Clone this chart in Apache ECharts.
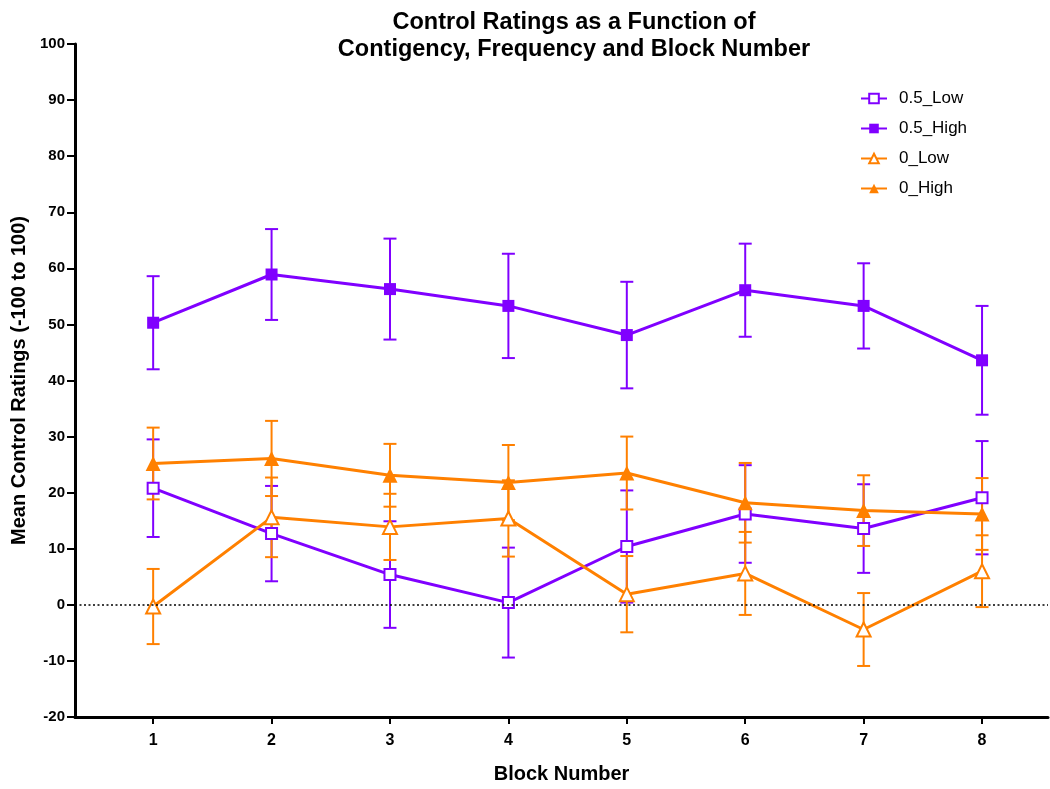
<!DOCTYPE html>
<html>
<head>
<meta charset="utf-8">
<script src="https://cdn.jsdelivr.net/npm/echarts@6/dist/echarts.min.js"></script>
<style>
  html, body { margin: 0; padding: 0; background: #fff; }
  #chart { width: 1050px; height: 789px; }
</style>
</head>
<body>
<div id="chart"></div>
<script>
// Block numbers along the x axis
const blocks = [1, 2, 3, 4, 5, 6, 7, 8];

// Mean control ratings per block, with standard errors
const lowHalfMean  = [20.8, 12.7, 5.4, 0.4, 10.4, 16.2, 13.6, 19.1];
const lowHalfSE    = [8.7, 8.5, 9.5, 9.8, 10.0, 8.7, 7.9, 10.1];
const highHalfMean = [50.3, 58.9, 56.3, 53.3, 48.1, 56.1, 53.3, 43.6];
const highHalfSE   = [8.3, 8.1, 9.0, 9.3, 9.5, 8.3, 7.6, 9.7];
const lowZeroMean  = [-0.3, 15.6, 13.9, 15.4, 1.9, 5.6, -4.4, 6.0];
const lowZeroSE    = [6.7, 7.1, 5.9, 6.8, 6.8, 7.4, 6.5, 6.4];
const highZeroMean = [25.2, 26.1, 23.1, 21.8, 23.5, 18.2, 16.8, 16.2];
const highZeroSE   = [6.4, 6.7, 5.6, 6.7, 6.5, 7.1, 6.3, 6.4];

const yTicks = { min: -20, max: 100, step: 10 };

const PURPLE = '#8000ff';
const ORANGE = '#ff8000';

const groups = [
  { name: '0.5_Low',  mean: lowHalfMean,  se: lowHalfSE,  color: PURPLE, symbol: 'rect',     open: true,  size: 11 },
  { name: '0.5_High', mean: highHalfMean, se: highHalfSE, color: PURPLE, symbol: 'rect',     open: false, size: 12 },
  { name: '0_Low',    mean: lowZeroMean,  se: lowZeroSE,  color: ORANGE, symbol: 'triangle', open: true,  size: 14 },
  { name: '0_High',   mean: highZeroMean, se: highZeroSE, color: ORANGE, symbol: 'triangle', open: false, size: 15 }
];

// Vertical mean ± SE bars with caps
function errorBarSeries(g) {
  const data = blocks.map((b, i) => [b, g.mean[i] - g.se[i], g.mean[i] + g.se[i]]);
  return {
    type: 'custom',
    name: g.name + ' SE',
    data: data,
    encode: { x: 0, y: [1, 2] },
    z: 2,
    silent: true,
    renderItem: function (params, api) {
      const x = api.value(0);
      const lo = api.coord([x, api.value(1)]);
      const hi = api.coord([x, api.value(2)]);
      const half = 6.5;
      const style = { stroke: g.color, lineWidth: 2, fill: null };
      return {
        type: 'group',
        children: [
          { type: 'line', shape: { x1: lo[0], y1: lo[1], x2: hi[0], y2: hi[1] }, style: style },
          { type: 'line', shape: { x1: lo[0] - half, y1: lo[1], x2: lo[0] + half, y2: lo[1] }, style: style },
          { type: 'line', shape: { x1: hi[0] - half, y1: hi[1], x2: hi[0] + half, y2: hi[1] }, style: style }
        ]
      };
    }
  };
}

function lineSeries(g, idx) {
  const s = {
    type: 'line',
    name: g.name,
    data: blocks.map((b, i) => [b, g.mean[i]]),
    symbol: g.symbol,
    symbolSize: g.size,
    showAllSymbol: true,
    z: 3,
    lineStyle: { color: g.color, width: 3 },
    itemStyle: g.open
      ? { color: '#ffffff', borderColor: g.color, borderWidth: 2 }
      : { color: g.color, borderColor: g.color, borderWidth: 0 },
    emphasis: { disabled: true },
    animation: false
  };
  if (idx === 0) {
    // dotted reference line at zero
    s.markLine = {
      silent: true,
      symbol: 'none',
      label: { show: false },
      lineStyle: { color: '#000', type: [2, 2.5], width: 1.6 },
      data: [{ yAxis: 0 }],
      animation: false
    };
  }
  return s;
}

const series = [];
groups.forEach((g, i) => {
  series.push(errorBarSeries(g));
  series.push(lineSeries(g, i));
});

const FONT = '"Liberation Sans", Arial, Helvetica, sans-serif';

const chart = echarts.init(document.getElementById('chart'), null, { renderer: 'canvas' });
chart.setOption({
  animation: false,
  backgroundColor: '#ffffff',
  title: {
    text: 'Control Ratings as a Function of\nContigency, Frequency and Block Number',
    left: 569,
    textAlign: 'center',
    top: 4,
    textStyle: { fontFamily: FONT, fontWeight: 'bold', fontSize: 23.5, lineHeight: 27, color: '#000' }
  },
  legend: {
    data: groups.map(g => g.name),
    orient: 'vertical',
    left: 860,
    top: 90,
    padding: 0,
    itemWidth: 26,
    itemHeight: 12,
    itemGap: 13,
    textStyle: { fontFamily: FONT, fontSize: 17, color: '#000', padding: [0, 0, 0, 7] },
    selectedMode: false
  },
  grid: { left: 75, right: 2, top: 44, bottom: 65, containLabel: false },
  xAxis: {
    type: 'value',
    min: 0.34,
    max: 8.557,
    name: 'Block Number',
    nameLocation: 'middle',
    nameGap: 47,
    nameTextStyle: { fontFamily: FONT, fontWeight: 'bold', fontSize: 20, color: '#000' },
    axisLine: { show: true, onZero: false, lineStyle: { color: '#000', width: 3 } },
    axisTick: { show: true, customValues: blocks, length: 7, lineStyle: { color: '#000', width: 2 } },
    axisLabel: { customValues: blocks, margin: 16, fontFamily: FONT, fontWeight: 'bold', fontSize: 16, color: '#000' },
    splitLine: { show: false }
  },
  yAxis: {
    type: 'value',
    min: yTicks.min,
    max: yTicks.max,
    interval: yTicks.step,
    name: 'Mean Control Ratings (-100 to 100)',
    nameLocation: 'middle',
    nameGap: 43,
    nameTextStyle: { fontFamily: FONT, fontWeight: 'bold', fontSize: 20, color: '#000' },
    axisLine: { show: true, lineStyle: { color: '#000', width: 3 } },
    axisTick: { show: true, length: 8, lineStyle: { color: '#000', width: 2 } },
    axisLabel: { margin: 10, fontFamily: FONT, fontWeight: 'bold', fontSize: 15, color: '#000' },
    splitLine: { show: false }
  },
  series: series
});
</script>
</body>
</html>
